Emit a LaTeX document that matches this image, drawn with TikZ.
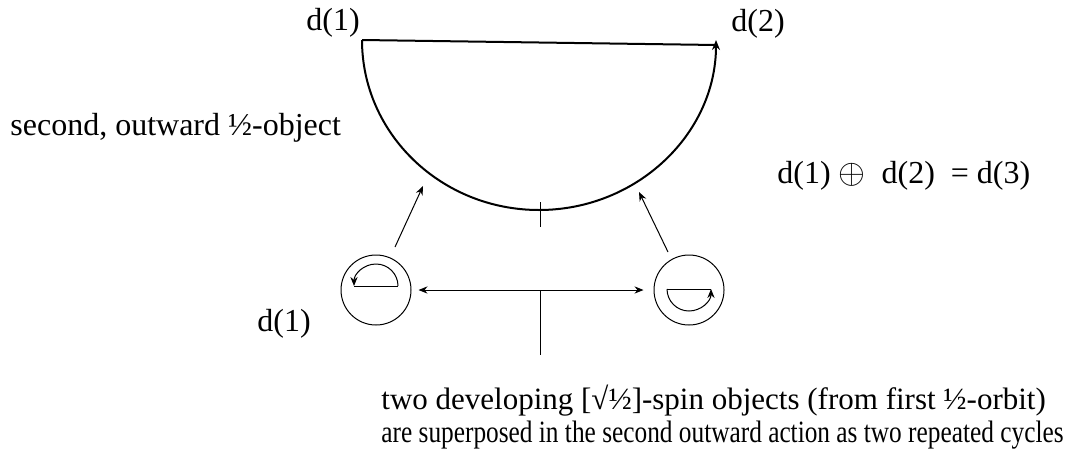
\documentclass[tikz,border=0pt]{standalone}
\usepackage{graphicx}
\usepackage{fontspec}
\setmainfont{Liberation Serif}
\usetikzlibrary{arrows.meta,calc}

\begin{document}
\begin{tikzpicture}[
  x=0.5pt,y=-0.5pt,
  font=\fontsize{16}{18}\selectfont,
  lbl/.style={inner sep=0pt,anchor=base west},
  note/.style={lbl,font=\fontsize{15.5}{17}\selectfont},
  orb/.style={draw,circle,line width=0.5pt,inner sep=0pt,minimum size=35pt},
  bold/.style={line width=1pt},
  thin/.style={line width=0.5pt},
  ar/.style={thin,-{Stealth[length=4.5pt,width=3.6pt]}}
]
\useasboundingbox (0,0) rectangle (1068,455);
% labels
\node[lbl] (dtop1) at (306,30) {d(1)};
\node[lbl] (dtop2) at (731,31) {d(2)};
\node[lbl] (outw) at (10,135) {second, outward ½-object};
\node[lbl] (sum) at (777,183) {d(1) $\oplus$\ \ d(2) \ = d(3)};
\node[lbl] (dlow) at (257,331) {d(1)};
\node[note] (txta) at (381,409) {two developing [√½]-spin objects (from first ½-orbit)};
\node[note] (txtb) at (381,442) {\scalebox{0.817}[1]{are superposed in the second
  outward action as two repeated cycles}};
% big half orbit
\coordinate (p1) at (362,40);
\coordinate (p2) at (716,45);
\draw[bold] (p2) -- (p1);
\draw[bold,-{Stealth[length=5pt,width=4pt]}] (p1)
  arc[start angle=180,end angle=0,x radius=177,y radius=170];
\coordinate (tk1) at (540,202);
\coordinate (tk2) at (540,227);
\draw[thin] (tk1) -- (tk2);
% two small orbits
\node[orb] (c1) at (376,290) {};
\node[orb] (c2) at (689,290) {};
\draw[thin] (354,286) -- (398,286);
\draw[ar] (398,286) arc[start angle=0,end angle=-180,radius=22];
\draw[thin] (667,289) -- (711,289);
\draw[ar] (667,289) arc[start angle=180,end angle=0,radius=22];
\draw[thin,{Stealth[length=4.5pt,width=3.6pt]}-{Stealth[length=4.5pt,width=3.6pt]},
  shorten <=3.5pt,shorten >=5pt] (c1) -- (c2);
% connectors
\coordinate (la) at (395,247);
\coordinate (lb) at (423,186);
\coordinate (ra) at (668,252);
\coordinate (rb) at (639,192);
\draw[ar] (la) -- (lb);
\draw[ar] (ra) -- (rb);
\coordinate (va) at (540,290);
\coordinate (vb) at (540,355);
\draw[thin] (va) -- (vb);
\end{tikzpicture}
\end{document}
